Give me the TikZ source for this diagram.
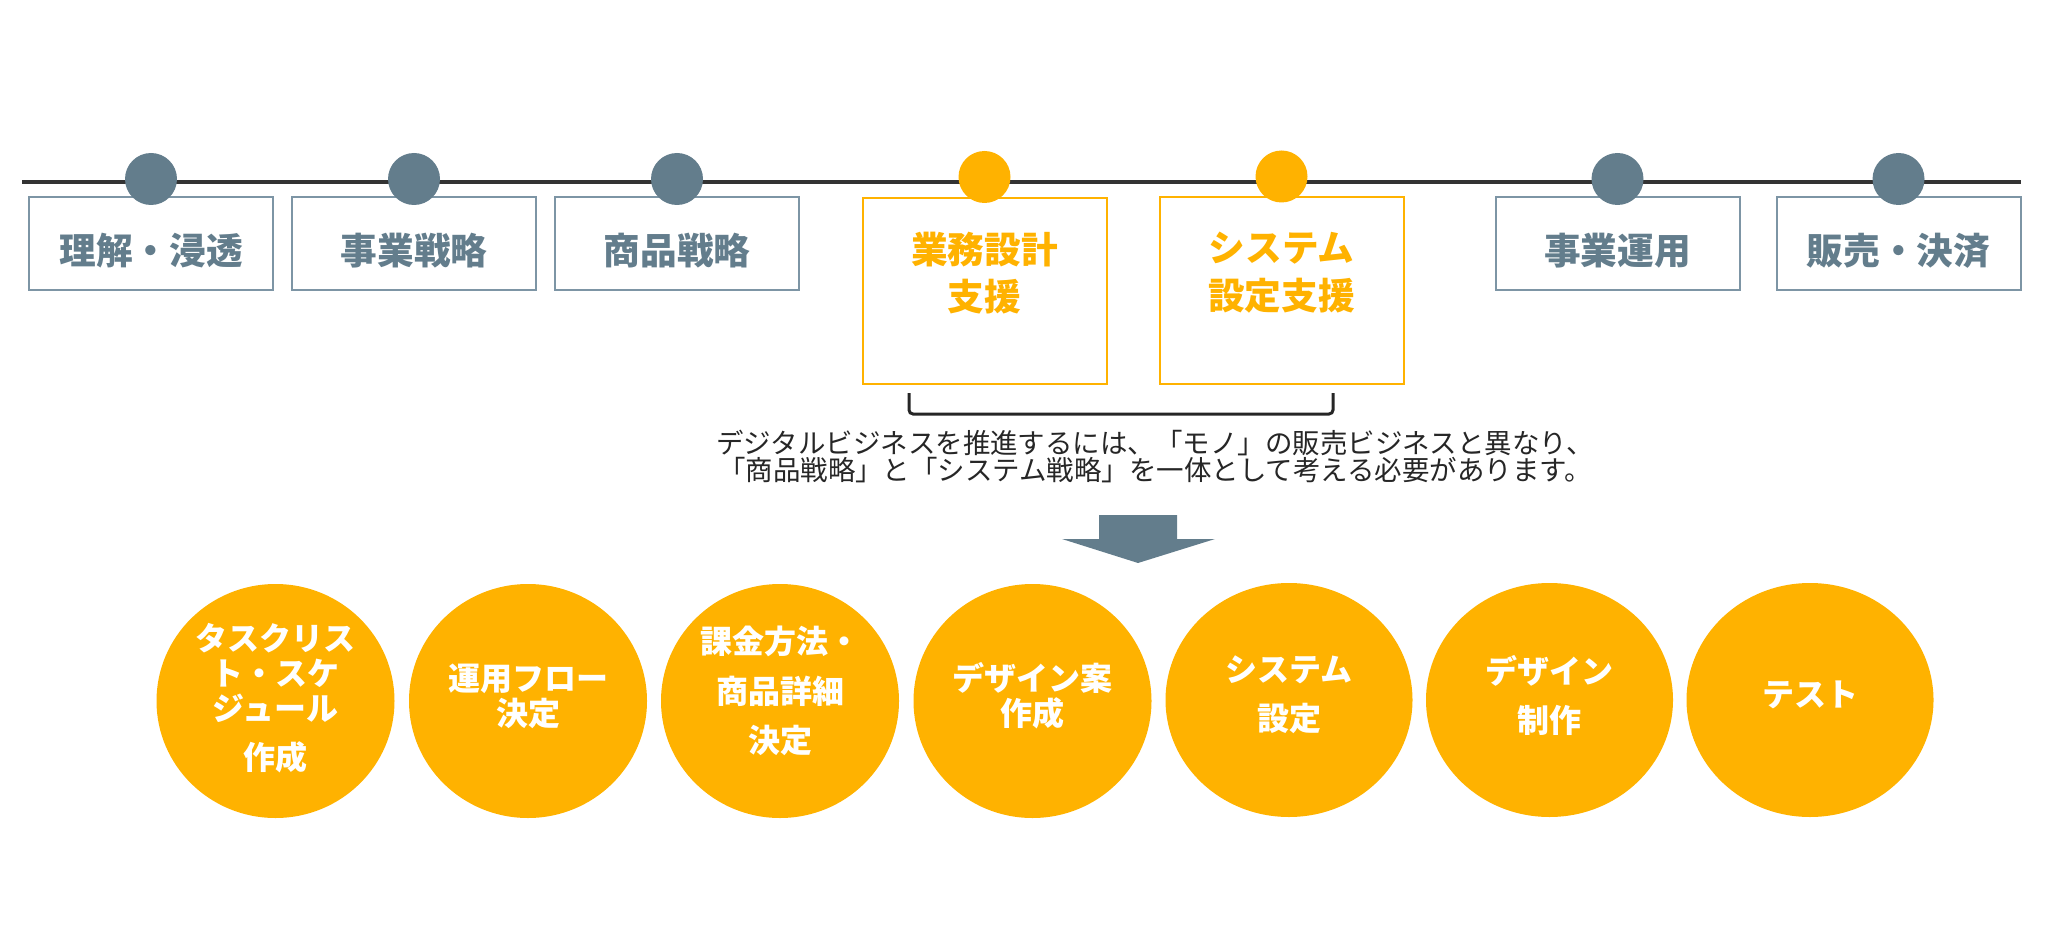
\documentclass[tikz,border=0pt]{standalone}
\usepackage{fontspec}
\setmainfont{Noto Sans CJK JP}
\usetikzlibrary{shapes.geometric,positioning}

\definecolor{slate}{RGB}{99,125,140}
\definecolor{slateline}{RGB}{125,149,165}
\definecolor{amber}{RGB}{255,178,0}
\definecolor{railgrey}{RGB}{51,51,51}
\definecolor{inkgrey}{RGB}{38,38,38}

\tikzset{every picture/.style={line width=0.75pt}}
\tikzset{
  stagebox/.style={draw=slateline, line width=1.5pt, minimum width=183pt, minimum height=69.75pt, inner sep=0pt},
  stageboxhi/.style={stagebox, draw=amber, minimum height=139.5pt},
  stagedot/.style={circle, fill=slate, minimum size=39pt, inner sep=0pt},
  stagedothi/.style={stagedot, fill=amber},
  stagelabel/.style={font=\fontsize{27.5}{35.6}\selectfont\bfseries, text=slate, align=center, inner sep=0.75pt},
  stagelabelhi/.style={stagelabel, text=amber},
  bubble/.style={ellipse, fill=amber, minimum width=178.5pt, minimum height=175.5pt, inner sep=0pt},
  bubblewide/.style={bubble, minimum width=185.25pt},
  bubbletext/.style={font=\fontsize{24}{26.25}\selectfont\bfseries, text=white, align=center, inner sep=0.75pt},
}

\begin{document}
\begin{tikzpicture}[x=0.75pt,y=0.75pt,yscale=-1,xscale=1]
\path[use as bounding box] (0,0) rectangle (2048,927);

%Timeline
\coordinate (rail-w) at (22,182);
\coordinate (rail-e) at (2021,182);
\draw [color=railgrey, line width=3pt] (rail-w) -- (rail-e);

%Stage boxes
\node [stagebox] (understand) at (151,243.5) {};
\node [stagebox] (bizstrat) at (414,243.5) {};
\node [stagebox] (prodstrat) at (677,243.5) {};
\node [stageboxhi] (opdesign) at (984.5,291) {};
\node [stageboxhi] (syssetup) at (1281.5,290.5) {};
\node [stagebox] (bizops) at (1617.5,243.5) {};
\node [stagebox] (sales) at (1898.5,243.5) {};

%Dots on the timeline
\foreach \s in {understand,bizstrat,prodstrat,bizops,sales}
  \node [stagedot] (dot-\s) at ([yshift=-12.75pt]\s.north) {};
\foreach \s in {opdesign,syssetup}
  \node [stagedothi] (dot-\s) at ([yshift=-15pt]\s.north) {};

% Text Node
\node [stagelabel] (understand-t) at ([yshift=5.25pt]understand.center) {理解・浸透};
% Text Node
\node [stagelabel] (bizstrat-t) at ([yshift=5.25pt]bizstrat.center) {事業戦略};
% Text Node
\node [stagelabel] (prodstrat-t) at ([yshift=5.25pt]prodstrat.center) {商品戦略};
% Text Node
\node [stagelabelhi] (opdesign-t) at ([yshift=-13.5pt]opdesign.center) {業務設計\\支援};
% Text Node
\node [stagelabelhi] (syssetup-t) at ([yshift=-13.5pt]syssetup.center) {システム\\設定支援};
% Text Node
\node [stagelabel] (bizops-t) at ([yshift=5.25pt]bizops.center) {事業運用};
% Text Node
\node [stagelabel] (sales-t) at ([yshift=5.25pt]sales.center) {販売・決済};

%Bracket under the two boxes
\coordinate (brace-w) at (909,393);
\coordinate (brace-e) at (1333,393);
\draw [color=inkgrey, line width=2.25pt, rounded corners=3pt] (brace-w) -- ++(0,21) -| (brace-e);

% Text Node
\node [font=\fontsize{20.6}{20.25}\selectfont, text=inkgrey, align=center, inner sep=0pt] (note) at (1155,456)
  {デジタルビジネスを推進するには、「モノ」の販売ビジネスと異なり、\\「商品戦略」と「システム戦略」を一体として考える必要があります。};

%Down arrow
\fill [color=slate] (1099,515) -- (1177,515) -- (1177,539) -- (1215,539) -- (1138,563) -- (1062,539) -- (1099,539) -- cycle;

%Tasks
\node [bubble] (tasklist) at (275.5,701) {};
\node [bubble] (opflow) at (528,701) {};
\node [bubble] (billing) at (780,701) {};
\node [bubble] (designplan) at (1032.5,701) {};
\node [bubblewide] (syscfg) at (1289,700) {};
\node [bubblewide] (designmake) at (1549.5,700) {};
\node [bubblewide] (testing) at (1810,700) {};

% Text Node
\node [bubbletext] (tasklist-t) at ([yshift=-2.25pt]tasklist.center) {タスクリス\\ト・スケ\\ジュール\\[10.5pt]作成};
% Text Node
\node [bubbletext] (opflow-t) at ([yshift=-3.75pt]opflow.center) {運用フロー\\決定};
% Text Node
\node [bubbletext] (billing-t) at ([yshift=-7.5pt]billing.center) {課金方法・\\[11.5pt]商品詳細\\[10.5pt]決定};
% Text Node
\node [bubbletext] (designplan-t) at ([yshift=-3.75pt]designplan.center) {デザイン案\\作成};
% Text Node
\node [bubbletext] (syscfg-t) at ([yshift=-3.75pt]syscfg.center) {システム\\[10.5pt]設定};
% Text Node
\node [bubbletext] (designmake-t) at ([yshift=-3.75pt]designmake.center) {デザイン\\[10.5pt]制作};
% Text Node
\node [bubbletext] (testing-t) at ([yshift=-3.75pt]testing.center) {テスト};
\end{tikzpicture}
\end{document}
